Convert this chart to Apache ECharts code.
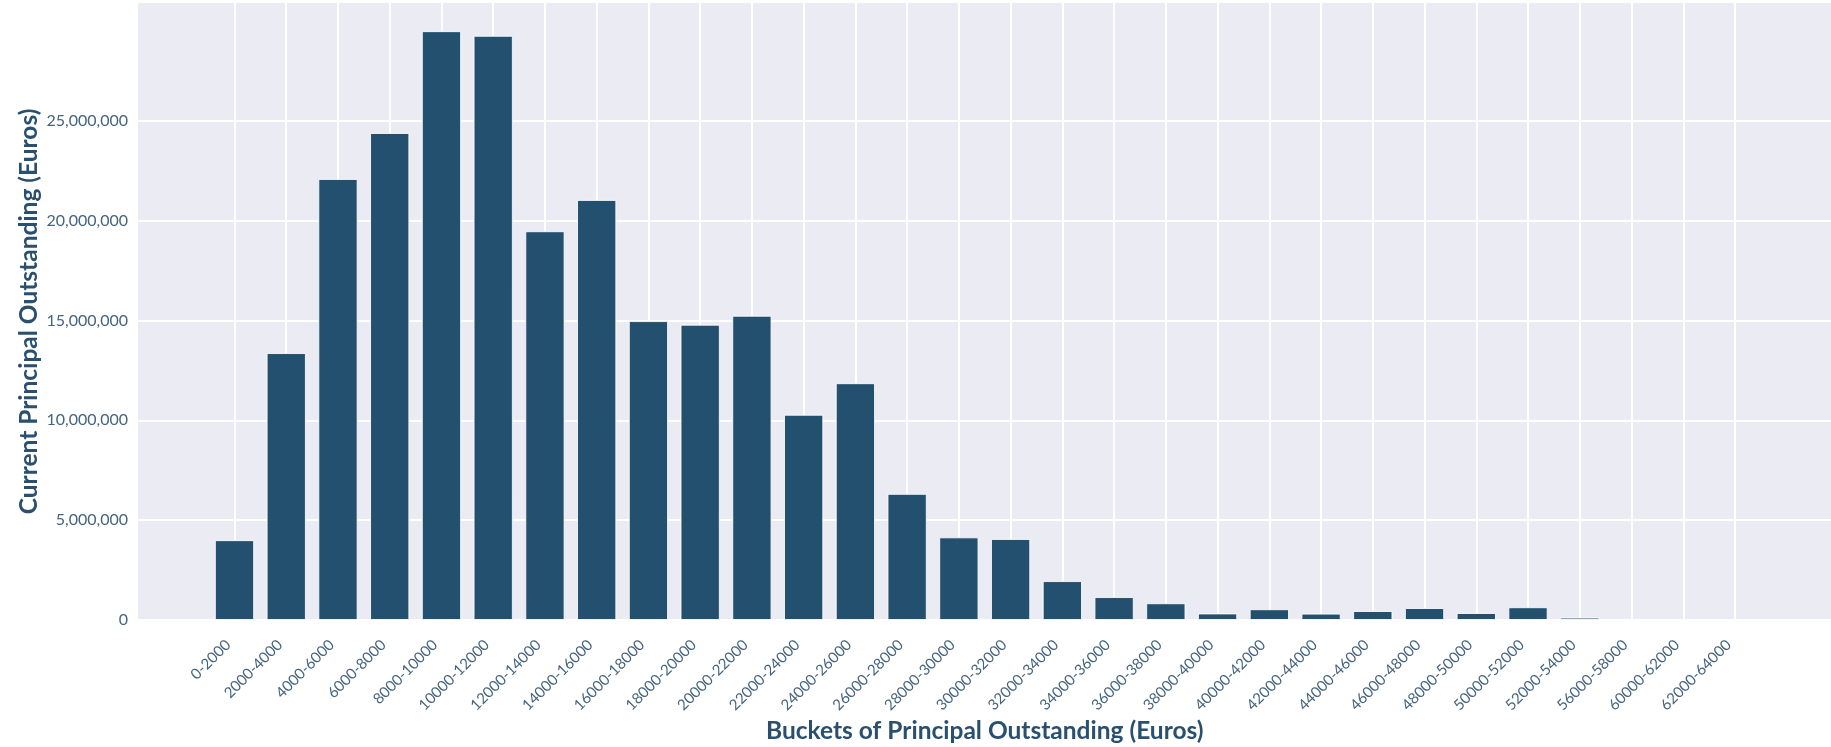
<!DOCTYPE html>
<html>
<head>
<meta charset="utf-8">
<script src="https://cdn.jsdelivr.net/npm/echarts@6/dist/echarts.min.js"></script>
<style>
html,body{margin:0;padding:0;background:#fff;}
#chart{width:1831px;height:747px;}
</style>
</head>
<body>
<div id="chart"></div>
<script>
// Buckets of principal outstanding (Euros)
const categories = ['0-2000','2000-4000','4000-6000','6000-8000','8000-10000','10000-12000','12000-14000','14000-16000','16000-18000','18000-20000','20000-22000','22000-24000','24000-26000','26000-28000','28000-30000','30000-32000','32000-34000','34000-36000','36000-38000','38000-40000','40000-42000','42000-44000','44000-46000','46000-48000','48000-50000','50000-52000','52000-54000','56000-58000','60000-62000','62000-64000'];
// Current principal outstanding (Euros)
const principal = [4000000,13370000,22090000,24390000,29490000,29260000,19470000,21040000,14970000,14790000,15240000,10280000,11860000,6320000,4140000,4060000,1950000,1150000,840000,330000,540000,320000,450000,600000,350000,640000,120000,20000,10000,15000];
// y tick labels
const yTicks = [0,5000000,10000000,15000000,20000000,25000000];
const yMax = 30900000;
const yStep = 5000000;

const FONT = 'Lato';
const labelColor = '#45647F';
const titleColor = '#2A5070';

const lastTick = yTicks[yTicks.length-1];
const splitColors = [];
for (let v = 0; v <= yMax; v += yStep) splitColors.push(v <= lastTick ? '#ffffff' : 'rgba(0,0,0,0)');
splitColors.push('rgba(0,0,0,0)');

const chart = echarts.init(document.getElementById('chart'), null, {renderer:'canvas'});
chart.setOption({
  animation:false,
  backgroundColor:'#ffffff',
  grid:[
    {left:234.5, right:96, top:3, bottom:127, show:false, containLabel:false, outerBoundsMode:'none'},
    {left:138, right:0, top:3, bottom:127, show:true, backgroundColor:'#EBEBF3', borderWidth:0, z:-1, containLabel:false, outerBoundsMode:'none'}
  ],
  xAxis:[
    {
      type:'category', gridIndex:0, data:categories, boundaryGap:false,
      axisLine:{show:false}, axisTick:{show:false},
      axisLabel:{interval:0, rotate:45, margin:16, padding:[0,9,0,0], fontFamily:FONT, fontSize:15, color:labelColor},
      splitLine:{show:true, interval:0, lineStyle:{color:'#ffffff', width:2}},
      name:'Buckets of Principal Outstanding (Euros)', nameLocation:'middle', nameGap:99, nameMoveOverlap:false,
      nameTextStyle:{fontFamily:FONT, fontSize:24.5, fontWeight:'bold', color:titleColor}
    },
    {type:'value', gridIndex:1, show:false, min:0, max:1}
  ],
  yAxis:[
    {type:'value', gridIndex:0, min:0, max:yMax, interval:yStep, show:false},
    {
      type:'value', gridIndex:1, min:0, max:yMax, interval:yStep,
      axisLine:{show:false}, axisTick:{show:false},
      axisLabel:{margin:10, fontFamily:FONT, fontSize:16, color:labelColor,
        formatter:function(v){ return v <= lastTick ? v.toLocaleString('en-US') : ''; }},
      splitLine:{show:true, lineStyle:{color:splitColors, width:2}},
      name:'Current Principal Outstanding (Euros)', nameLocation:'middle', nameGap:96, nameMoveOverlap:false,
      nameTextStyle:{fontFamily:FONT, fontSize:24.5, fontWeight:'bold', color:titleColor}
    }
  ],
  series:[{
    type:'bar', xAxisIndex:0, yAxisIndex:0, data:principal,
    barWidth:'76%', clip:false,
    itemStyle:{color:'#24506F', borderColor:'rgba(255,255,255,0.85)', borderWidth:1}
  }]
});
</script>
</body>
</html>
